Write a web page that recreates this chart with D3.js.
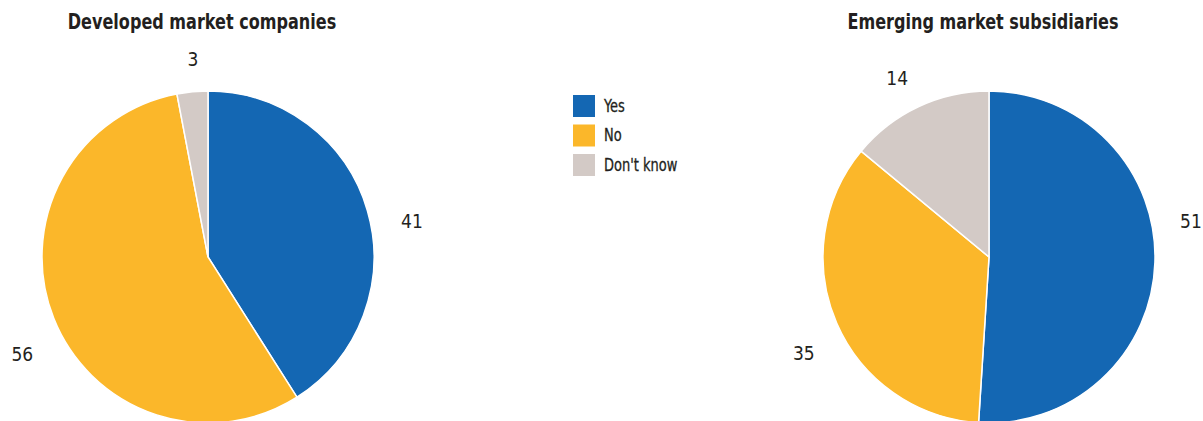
<!DOCTYPE html>
<html lang="en">
<head>
<meta charset="utf-8">
<title>Pies</title>
<script src="https://d3js.org/d3.v7.min.js"></script>
<style>
  body { margin: 0; background: #fff; }
  text { font-family: "Liberation Sans Narrow", "DejaVu Sans Condensed", sans-serif; fill: #231f20; }
</style>
</head>
<body>
<script>
// data
var categories = ["Yes", "No", "Don't know"];
var pieTitles = ["Developed market companies", "Emerging market subsidiaries"];
var developedValues = [41, 56, 3];
var emergingValues = [51, 35, 14];
var colors = ["#1467b3", "#fbb72a", "#d3cac6"];

var width = 1203, height = 421;
var radius = 166;
var centers = [{x: 208, y: 257}, {x: 989, y: 257}];
var labelRadius = 204;
// nudges for the outside labels (layout only) [dx, dy]
var labelNudge = [[[8, 21], [4, 22], [4, 5]], [[-2, -42], [2, 15], [-5, 6]]];
var squeeze = 0.85; // mimic a condensed face

var svg = d3.select("body").append("svg")
  .attr("width", width)
  .attr("height", height);

var pie = d3.pie().sort(null).value(function(d) { return d; });
var arc = d3.arc().innerRadius(0).outerRadius(radius);
var labelArc = d3.arc().innerRadius(labelRadius).outerRadius(labelRadius);

function condense(sel) {
  sel.each(function() {
    var w = this.getComputedTextLength();
    d3.select(this).attr("textLength", w * squeeze).attr("lengthAdjust", "spacingAndGlyphs");
  });
}

[developedValues, emergingValues].forEach(function(values, p) {
  var g = svg.append("g")
    .attr("transform", "translate(" + centers[p].x + "," + centers[p].y + ")");

  g.selectAll("path")
    .data(pie(values))
    .enter()
    .append("path")
    .attr("d", arc)
    .attr("fill", function(d, i) { return colors[i]; })
    .attr("stroke", "#fff")
    .attr("stroke-width", 1.5);

  g.selectAll("text.val")
    .data(pie(values))
    .enter()
    .append("text")
    .attr("class", "val")
    .attr("x", function(d, i) { return labelArc.centroid(d)[0] + labelNudge[p][i][0]; })
    .attr("y", function(d, i) { return labelArc.centroid(d)[1] + labelNudge[p][i][1]; })
    .attr("dy", "0.35em")
    .attr("text-anchor", "middle")
    .style("font-size", "19px")
    .text(function(d) { return d.data; });

  svg.append("text")
    .attr("x", centers[p].x - 6)
    .attr("y", 29)
    .attr("text-anchor", "middle")
    .style("font-size", "21px")
    .style("font-weight", "bold")
    .text(pieTitles[p])
    .call(condense);
});

// legend
var legend = svg.append("g").attr("transform", "translate(573,95)");
var items = legend.selectAll("g")
  .data(categories)
  .enter()
  .append("g")
  .attr("transform", function(d, i) { return "translate(0," + (i * 29.5) + ")"; });

items.append("rect")
  .attr("width", 22)
  .attr("height", 22)
  .attr("fill", function(d, i) { return colors[i]; });

items.append("text")
  .attr("x", 31)
  .attr("y", 11)
  .attr("dy", "0.35em")
  .style("font-size", "17px")
  .style("stroke", "#231f20")
  .style("stroke-width", 0.3)
  .text(function(d) { return d; })
  .call(condense);
</script>
</body>
</html>
